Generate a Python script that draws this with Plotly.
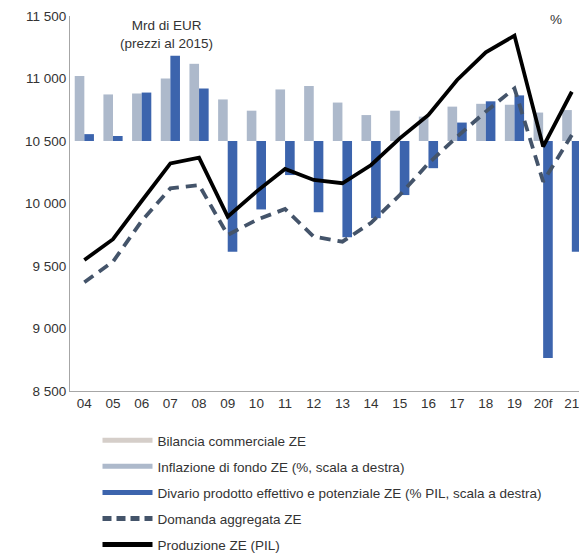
import plotly.graph_objects as go

years = ["04", "05", "06", "07", "08", "09", "10", "11", "12", "13", "14", "15",
         "16", "17", "18", "19", "20f", "21"]
core_inflation = [2.08, 1.49, 1.52, 2.00, 2.47, 1.33, 0.97, 1.65, 1.76, 1.23, 0.83, 0.97,
                  0.78, 1.10, 1.19, 1.16, 0.91, 0.99]
output_gap = [0.22, 0.16, 1.55, 2.73, 1.68, -3.54, -2.19, -1.09, -2.28, -3.08, -2.47, -1.73,
              -0.87, 0.59, 1.27, 1.46, -6.94, -3.54]
aggregate_demand = [9370, 9535, 9860, 10121, 10148, 9748, 9868, 9956, 9735, 9695, 9846, 10068,
                    10321, 10535, 10735, 10921, 10175, 10548]
gdp = [9548, 9714, 10020, 10321, 10367, 9895, 10095, 10276, 10188, 10162, 10308, 10521,
       10708, 10988, 11209, 11343, 10455, 10894]
left_ticks = [8500, 9000, 9500, 10000, 10500, 11000, 11500]

c_trade = "#d5cec9"
c_core = "#adb9cb"
c_gap = "#3c64ad"
c_dem = "#44546a"
c_gdp = "#000000"
font_c = "#333333"
fs = 13.5

fig = go.Figure()
fig.add_trace(go.Bar(x=years, y=core_inflation, marker_color=c_core, marker_line_width=0,
                     yaxis="y", showlegend=False, name="Inflazione di fondo ZE (%, scala a destra)"))
fig.add_trace(go.Bar(x=years, y=output_gap, marker_color=c_gap, marker_line_width=0,
                     yaxis="y", showlegend=False,
                     name="Divario prodotto effettivo e potenziale ZE (% PIL, scala a destra)"))
fig.add_trace(go.Scatter(x=years, y=aggregate_demand, mode="lines", yaxis="y2",
                         line=dict(color=c_dem, width=3.8, dash="11px,7px"),
                         showlegend=False, name="Domanda aggregata ZE"))
fig.add_trace(go.Scatter(x=years, y=gdp, mode="lines", yaxis="y2",
                         line=dict(color=c_gdp, width=3.8),
                         showlegend=False, name="Produzione ZE (PIL)"))

# legend entries (line swatches as in the original)
legend_items = [
    ("Bilancia commerciale ZE", c_trade, None),
    ("Inflazione di fondo ZE (%, scala a destra)", c_core, None),
    ("Divario prodotto effettivo e potenziale ZE (% PIL, scala a destra)", c_gap, None),
    ("Domanda aggregata ZE", c_dem, "9px,5px"),
    ("Produzione ZE (PIL)", c_gdp, None),
]
for i, (name, col, dash) in enumerate(legend_items):
    fig.add_trace(go.Scatter(x=[None], y=[None], mode="lines", name=name, yaxis="y2",
                             legendgroup=f"g{i}",
                             line=dict(color=col, width=5, dash=dash)))

fig.update_layout(
    width=579, height=554,
    margin=dict(l=70, r=0, t=16, b=163, autoexpand=False),
    paper_bgcolor="white", plot_bgcolor="white",
    font=dict(family="Liberation Sans, Arial, sans-serif", size=fs, color=font_c),
    separators=", ",
    barmode="group", bargap=0.33, bargroupgap=0,
    xaxis=dict(type="category", range=[-0.5, 17.25], showline=True, linecolor="#a6a6a6",
               linewidth=1, ticks="", showgrid=False, automargin=False,
               tickfont=dict(size=fs, color=font_c)),
    yaxis=dict(range=[-8, 4], side="right", showticklabels=False, showgrid=False,
               zeroline=False, showline=False, automargin=False),
    yaxis2=dict(range=[8500, 11500], overlaying="y", side="left", tickvals=left_ticks,
                tickformat=",d", showgrid=False, zeroline=False, showline=True,
                linecolor="#a6a6a6", linewidth=1, ticks="", automargin=False,
                tickfont=dict(size=fs, color=font_c)),
    legend=dict(x=(97.5 - 70) / 509, xref="paper", y=-0.0907, yanchor="top", xanchor="left",
                orientation="v", itemwidth=50,
                tracegroupgap=5.5, font=dict(size=fs, color=font_c), bgcolor="rgba(0,0,0,0)"),
    annotations=[
        dict(text="Mrd di EUR<br>(prezzi al 2015)", xref="paper", yref="paper",
             x=(166 - 70) / 509, y=(391 - 35) / 375, showarrow=False, xanchor="center",
             yanchor="middle", font=dict(size=fs, color=font_c), align="center"),
        dict(text="%", xref="paper", yref="paper", x=(556 - 70) / 509, y=(391 - 19) / 375,
             showarrow=False, xanchor="center", yanchor="middle",
             font=dict(size=fs, color=font_c)),
    ],
)

fig.write_html(
    "out.html",
    config={"displayModeBar": False},
    post_script="document.body.style.margin='0';document.body.style.overflow='hidden';",
)
